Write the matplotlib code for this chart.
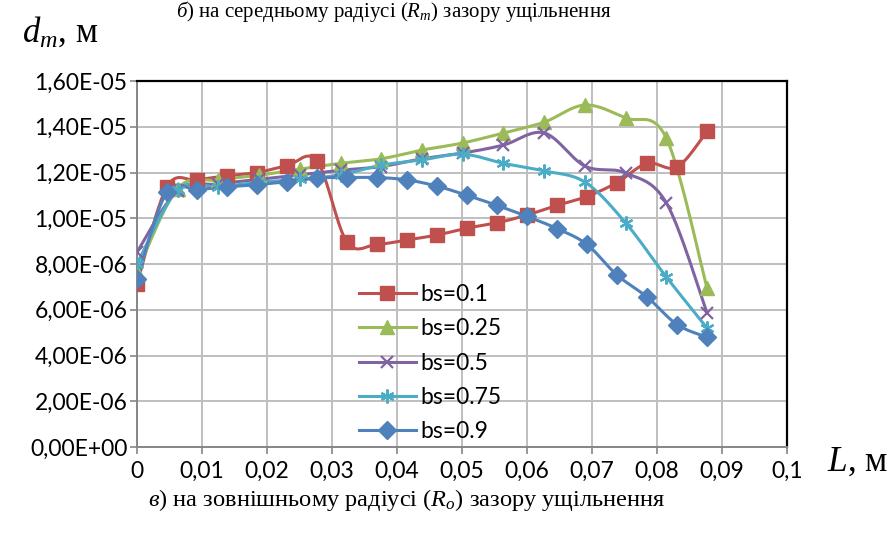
import numpy as np
import matplotlib
matplotlib.use("Agg")
import matplotlib.pyplot as plt
from matplotlib.lines import Line2D

plt.rcParams['mathtext.fontset'] = 'custom'
plt.rcParams['mathtext.rm'] = 'Liberation Serif'
plt.rcParams['mathtext.it'] = 'Liberation Serif:italic'

# ---- data ----
x20 = [0.0, 0.0046, 0.0092, 0.0138, 0.0185, 0.0231, 0.0277, 0.0323, 0.0369, 0.0415,
       0.0462, 0.0508, 0.0554, 0.0600, 0.0646, 0.0692, 0.0738, 0.0785, 0.0831, 0.0877]
x15 = [0.0, 0.00626, 0.01253, 0.01879, 0.02506, 0.03132, 0.03759, 0.04385,
       0.05011, 0.05638, 0.06264, 0.06891, 0.07517, 0.08144, 0.0877]

bs01 = [7.13e-6, 1.137e-5, 1.167e-5, 1.185e-5, 1.20e-5, 1.23e-5, 1.25e-5, 8.96e-6, 8.86e-6, 9.05e-6,
        9.27e-6, 9.57e-6, 9.8e-6, 1.014e-5, 1.056e-5, 1.095e-5, 1.155e-5, 1.24e-5, 1.224e-5, 1.38e-5]
bs025 = [7.65e-6, 1.13e-5, 1.167e-5, 1.188e-5, 1.215e-5, 1.24e-5, 1.26e-5, 1.298e-5,
         1.329e-5, 1.373e-5, 1.42e-5, 1.495e-5, 1.438e-5, 1.35e-5, 6.95e-6]
bs05 = [8.52e-6, 1.12e-5, 1.15e-5, 1.17e-5, 1.19e-5, 1.21e-5, 1.226e-5, 1.26e-5,
        1.285e-5, 1.32e-5, 1.373e-5, 1.228e-5, 1.198e-5, 1.067e-5, 5.86e-6]
bs075 = [8.0e-6, 1.124e-5, 1.137e-5, 1.158e-5, 1.17e-5, 1.19e-5, 1.232e-5, 1.255e-5,
         1.28e-5, 1.24e-5, 1.207e-5, 1.158e-5, 9.8e-6, 7.43e-6, 5.2e-6]
bs09 = [7.34e-6, 1.115e-5, 1.125e-5, 1.137e-5, 1.147e-5, 1.16e-5, 1.176e-5, 1.178e-5, 1.178e-5, 1.168e-5,
        1.14e-5, 1.10e-5, 1.056e-5, 1.008e-5, 9.55e-6, 8.86e-6, 7.53e-6, 6.55e-6, 5.35e-6, 4.8e-6]

labels = ["bs=0.1", "bs=0.25", "bs=0.5", "bs=0.75", "bs=0.9"]
xticks = [0, 0.01, 0.02, 0.03, 0.04, 0.05, 0.06, 0.07, 0.08, 0.09, 0.1]
yticks = [0, 2e-6, 4e-6, 6e-6, 8e-6, 1e-5, 1.2e-5, 1.4e-5, 1.6e-5]

colors = ["#C0504D", "#9BBB59", "#8064A2", "#4BACC6", "#4F81BD"]
markers = ["s", "^", "x", (6, 2, 0), "D"]
msizes = [10, 10, 9, 10, 9]


def smooth(xs, ys, n=24):
    p = np.column_stack([xs, ys]).astype(float)
    out = []
    for i in range(len(p) - 1):
        p0 = p[i - 1] if i > 0 else p[i]
        p1, p2 = p[i], p[i + 1]
        p3 = p[i + 2] if i + 2 < len(p) else p[i + 1]
        c1 = p1 + (p2 - p0) / 6.0
        c2 = p2 - (p3 - p1) / 6.0
        t = np.linspace(0, 1, n)[:, None]
        seg = ((1 - t) ** 3) * p1 + 3 * ((1 - t) ** 2) * t * c1 + 3 * (1 - t) * t ** 2 * c2 + t ** 3 * p2
        out.append(seg if i == 0 else seg[1:])
    s = np.vstack(out)
    return s[:, 0], s[:, 1]


fig = plt.figure(figsize=(8.95, 5.33), dpi=100)
ax = fig.add_axes([137 / 895, 1 - 447 / 533, 650 / 895, 366 / 533])

series = [(x20, bs01), (x15, bs025), (x15, bs05), (x15, bs075), (x20, bs09)]
handles = []
for (xs, ys), c, m, ms, lab in zip(series, colors, markers, msizes, labels):
    sx, sy = smooth(xs, ys)
    ax.plot(sx, sy, color=c, lw=2.2, zorder=3, solid_capstyle='round')
    mew = 1.6 if m in ("x",) or isinstance(m, tuple) else 1.0
    ax.plot(xs, ys, ls='none', marker=m, ms=ms, color=c, mfc=c, mec=c, mew=mew, zorder=4)
    handles.append(Line2D([0], [0], color=c, lw=2.2, marker=m, ms=ms, mfc=c, mec=c, mew=mew))

ax.set_xlim(0, 0.1)
ax.set_ylim(0, 1.6e-5)
ax.set_xticks(xticks)
ax.set_yticks(yticks)
ax.set_xticklabels([("%g" % v).replace('.', ',') for v in xticks])
ax.set_yticklabels([("%.2E" % v).replace('.', ',') for v in yticks])
ax.grid(True, color="#BFBFBF", lw=1.4, zorder=0)
ax.set_axisbelow(True)

tickfont = "Lato"
fs = 16.5
for lab in ax.get_xticklabels() + ax.get_yticklabels():
    lab.set_fontfamily(tickfont)
    lab.set_fontsize(fs)
ax.tick_params(axis='both', direction='out', length=5, width=1.2, color="#868686")
ax.tick_params(axis='x', pad=5)
ax.tick_params(axis='y', pad=2)
for s in ["left", "bottom"]:
    ax.spines[s].set_color("#868686")
    ax.spines[s].set_linewidth(1.4)
for s in ["top", "right"]:
    ax.spines[s].set_color("black")
    ax.spines[s].set_linewidth(1.6)

leg = ax.legend(handles, labels, loc="upper left", bbox_to_anchor=(0.328, 0.47),
                frameon=False, prop={"family": tickfont, "size": fs},
                handlelength=2.45, handletextpad=0.2, labelspacing=0.58, borderaxespad=0)

serif = "Liberation Serif"
fig.text(22 / 895, 1 - 42 / 533, "$d_m$, м", fontsize=25, family=serif, ha="left", va="baseline")
fig.text(827 / 895, 1 - 471 / 533, "$L$, м", fontsize=25.5, family=serif, ha="left", va="baseline")
fig.text(176 / 895, 1 - 17 / 533, "$б)$ на середньому радіусі ($R_m$) зазору ущільнення",
         fontsize=15, family=serif, ha="left", va="baseline")
fig.text(148 / 895, 1 - 506 / 533, "$в)$ на зовнішньому радіусі ($R_o$) зазору ущільнення",
         fontsize=17.6, family=serif, ha="left", va="baseline")

fig.savefig("out.png", dpi=100)
